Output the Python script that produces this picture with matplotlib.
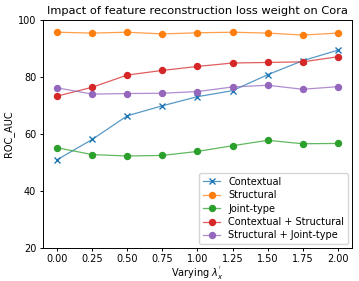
import matplotlib
matplotlib.use("Agg")
import matplotlib.pyplot as plt
from matplotlib.colors import to_rgba

lambdas = [0.0, 0.25, 0.5, 0.75, 1.0, 1.25, 1.5, 1.75, 2.0]
contextual = [51.0, 58.1, 66.4, 69.9, 73.1, 75.2, 80.8, 85.7, 89.4]
structural = [95.7, 95.4, 95.7, 95.1, 95.5, 95.7, 95.4, 94.7, 95.4]
joint_type = [55.2, 52.8, 52.3, 52.5, 53.9, 55.9, 57.8, 56.6, 56.7]
ctx_struct = [73.3, 76.4, 80.7, 82.3, 83.7, 84.9, 85.1, 85.3, 87.1]
struct_joint = [76.2, 74.0, 74.2, 74.3, 74.9, 76.5, 77.1, 75.7, 76.6]

series = [
    ("Contextual", contextual, "x", "tab:blue"),
    ("Structural", structural, "o", "tab:orange"),
    ("Joint-type", joint_type, "o", "tab:green"),
    ("Contextual + Structural", ctx_struct, "o", "tab:red"),
    ("Structural + Joint-type", struct_joint, "o", "tab:purple"),
]

plt.rcParams["font.size"] = 7
plt.rcParams["axes.linewidth"] = 0.7
plt.rcParams["xtick.major.width"] = 0.7
plt.rcParams["ytick.major.width"] = 0.7
plt.rcParams["xtick.major.size"] = 2.5
plt.rcParams["ytick.major.size"] = 2.5
plt.rcParams["xtick.major.pad"] = 2
plt.rcParams["ytick.major.pad"] = 2.5
fig = plt.figure(figsize=(3.59, 2.81), dpi=100)
ax = fig.add_axes([0.12, 0.117, 0.86, 0.812])

for name, vals, mk, col in series:
    ax.plot(lambdas, vals, color=to_rgba(col, 0.75), marker=mk, markersize=4.3,
            markerfacecolor=col, markeredgecolor=col, linewidth=0.9, label=name)

ax.set_ylim(20, 100)
ax.set_yticks([20, 40, 60, 80, 100])
ax.set_xticks(lambdas)
ax.set_xlabel("Varying $\\lambda_x^{'}$", labelpad=0)
ax.set_ylabel("ROC_AUC", labelpad=3)
ax.set_title("Impact of feature reconstruction loss weight on Cora", fontsize=8.2, pad=4)
ax.legend(loc="lower right", fontsize=7, borderaxespad=0.4, handlelength=1.8,
          labelspacing=0.35)

fig.savefig("out.png", dpi=100)
